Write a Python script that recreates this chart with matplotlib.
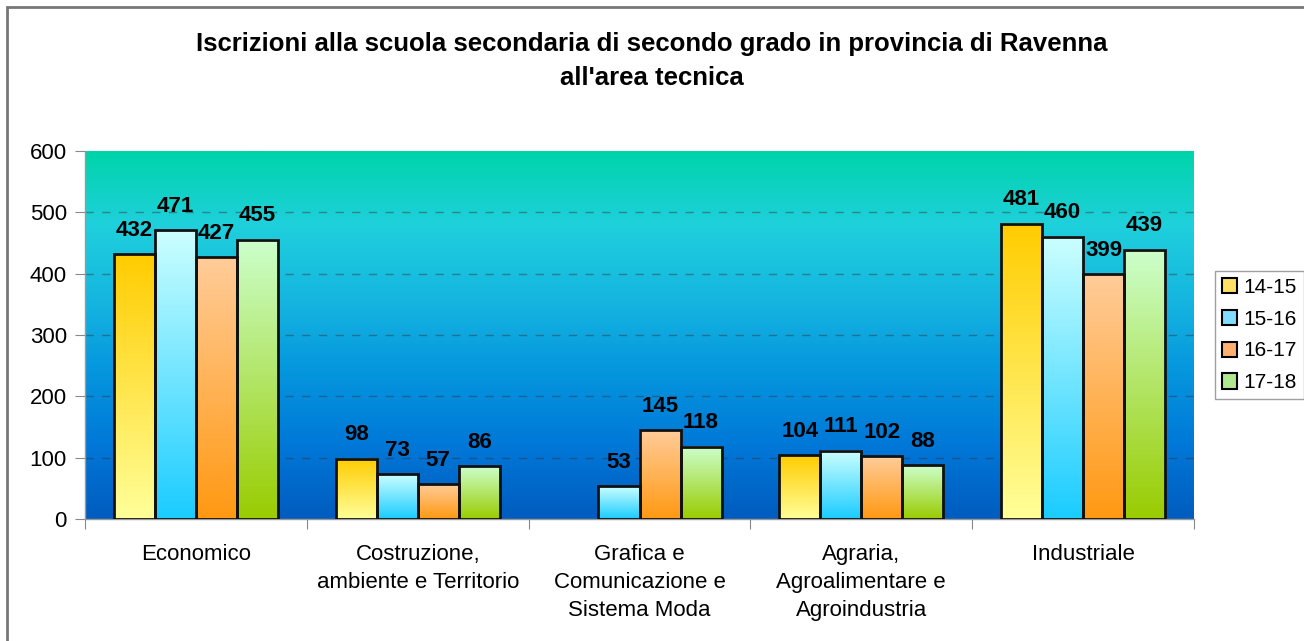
import numpy as np
import matplotlib
matplotlib.use("Agg")
import matplotlib.pyplot as plt
from matplotlib.colors import LinearSegmentedColormap
from matplotlib.patches import Patch, Rectangle

plt.rcParams['font.family'] = ['Liberation Sans', 'DejaVu Sans']

# ---- data ----
categories = ['Economico', 'Costruzione,\nambiente e Territorio',
              'Grafica e\nComunicazione e\nSistema Moda',
              'Agraria,\nAgroalimentare e\nAgroindustria', 'Industriale']
years = ['14-15', '15-16', '16-17', '17-18']
v1415 = [432, 98, None, 104, 481]
v1516 = [471, 73, 53, 111, 460]
v1617 = [427, 57, 145, 102, 399]
v1718 = [455, 86, 118, 88, 439]
series = [v1415, v1516, v1617, v1718]

title = "Iscrizioni alla scuola secondaria di secondo grado in provincia di Ravenna\nall'area tecnica"

# gradient colours per series (top, bottom)
grads = [('#FFCC00', '#FFFF99'),
         ('#CCFFFF', '#1ACCFF'),
         ('#FFCC99', '#FF9912'),
         ('#CCFFCC', '#99CC00')]
legend_cols = ['#FFE066', '#80DDFF', '#FFB070', '#B0E890']

bg_cmap = LinearSegmentedColormap.from_list(
    'bg', [(0.0, '#005CBF'), (0.2, '#0078D8'), (0.4, '#0596DE'),
           (0.6, '#16B6E0'), (0.8, '#1FD0DC'), (1.0, '#00D4AA')])

W, H = 1304, 641
fig = plt.figure(figsize=(W / 100, H / 100), dpi=100)
ax = fig.add_axes([85 / W, 1 - 519 / H, (1194 - 85) / W, (519 - 151) / H])

n = len(categories)
x = np.arange(n)
bw = 0.185
ymax = 600

# background gradient
grad = np.linspace(0, 1, 256).reshape(-1, 1)
ax.imshow(grad, extent=(-0.5, n - 0.5, 0, ymax), origin='lower', aspect='auto',
          cmap=bg_cmap, zorder=0)

for i, vals in enumerate(series):
    pos = x + (i - 1.5) * bw
    cm = LinearSegmentedColormap.from_list('s%d' % i, [grads[i][1], grads[i][0]])
    for p, v in zip(pos, vals):
        if v is None:
            continue
        ax.bar(p, v, width=bw, facecolor='none', edgecolor='#111111',
               linewidth=2, zorder=4)
        ax.imshow(grad, extent=(p - bw / 2, p + bw / 2, 0, v), origin='lower',
                  aspect='auto', cmap=cm, zorder=3)
        ax.text(p, v + 22, str(v), ha='center', va='bottom', fontsize=16,
                fontweight='bold', color='black', zorder=5)

ax.set_xlim(-0.5, n - 0.5)
ax.set_ylim(0, ymax)

ax.set_yticks(range(0, 601, 100))
ax.tick_params(axis='y', length=7, color='#888888', labelsize=16, pad=6)
for yv in range(100, 600, 100):
    ax.axhline(yv, color='#333333', lw=1, ls=(0, (6, 6)), alpha=0.45, zorder=1)

ax.set_xticks(np.arange(-0.5, n, 1.0))
ax.set_xticklabels([])
ax.tick_params(axis='x', which='major', length=7, color='#888888', direction='out')
ax.set_xticks(x, minor=True)
ax.set_xticklabels(categories, minor=True, fontsize=16, linespacing=1.45)
ax.tick_params(axis='x', which='minor', length=0, pad=18)

for s in ['top', 'right']:
    ax.spines[s].set_visible(False)
for s in ['left', 'bottom']:
    ax.spines[s].set_color('#999999')
    ax.spines[s].set_linewidth(1)

fig.text(0.5, 1 - 61 / H, title, ha='center', va='center', fontsize=18.5,
         fontweight='bold', linespacing=1.5)

handles = [Patch(facecolor=c, edgecolor='black', linewidth=1.5) for c in legend_cols]
leg = fig.legend(handles, years, loc='center left',
                 bbox_to_anchor=(1215 / W, 1 - 335 / H), fontsize=15,
                 frameon=True, fancybox=False, edgecolor='#888888',
                 handlelength=0.75, handleheight=0.75, handletextpad=0.3,
                 labelspacing=0.62, borderpad=0.32, borderaxespad=0)
leg.get_frame().set_linewidth(1)

# outer frame of the chart
fig.add_artist(Rectangle((7 / W, -0.1), 1.2, 1 - 7 / H + 0.1,
                         transform=fig.transFigure, fill=False,
                         edgecolor='#777777', linewidth=2))

fig.savefig('out.png', dpi=100)
